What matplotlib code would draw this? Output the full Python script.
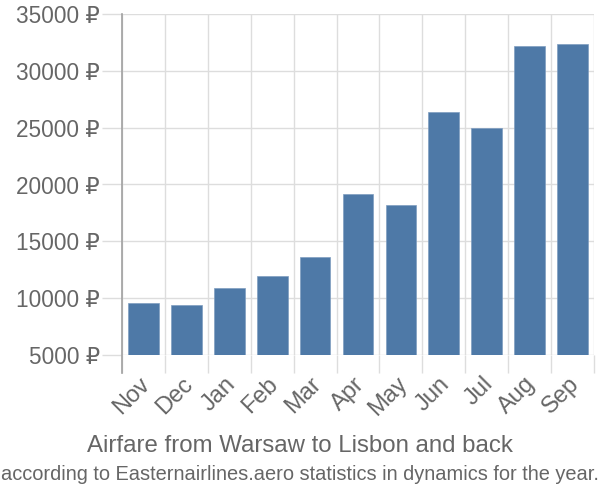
import matplotlib.pyplot as plt
import matplotlib.transforms as mtransforms
from matplotlib.ticker import FixedLocator

months = ['Nov', 'Dec', 'Jan', 'Feb', 'Mar', 'Apr', 'May', 'Jun', 'Jul', 'Aug', 'Sep']
prices = [9600, 9360, 10880, 11910, 13630, 19150, 18240, 26350, 24970, 32150, 32350]
yticks = [5000, 10000, 15000, 20000, 25000, 30000, 35000]

title = 'Airfare from Warsaw to Lisbon and back'
subtitle = 'according to Easternairlines.aero statistics in dynamics for the year.'

plt.rcParams['font.family'] = ['Liberation Sans', 'DejaVu Sans']
txt = '#666666'
grid = '#dddddd'

fig = plt.figure(figsize=(6, 5), dpi=100)
ax = fig.add_axes([122/600, 1-355/500, 472/600, 341/500])

x = range(len(months))
ax.bar(x, prices, width=0.715, bottom=0, color='#4e79a7', edgecolor='#7f9dc0', linewidth=0.5, zorder=3)

ax.set_xlim(-0.5, len(months) - 0.5)
ax.set_ylim(5000, 35000)

# y axis
ax.set_yticks(yticks)
ax.set_yticklabels([f'{v} ₽' for v in yticks])
ax.tick_params(axis='y', length=14.5, width=1, color=grid, pad=1.5, labelsize=16.3, labelcolor=txt)
ax.grid(axis='y', color=grid, linewidth=1, zorder=0)

# x axis: boundaries as minor ticks with grid, labels at centers
ax.xaxis.set_minor_locator(FixedLocator([i - 0.5 for i in range(len(months) + 1)]))
ax.set_xticks(list(x))
ax.set_xticklabels(months, rotation=45, ha='right', va='top', rotation_mode='anchor')
ax.tick_params(axis='x', which='major', length=0, pad=13, labelsize=17, labelcolor=txt)
ax.tick_params(axis='x', which='minor', length=13, width=1, color=grid)
ax.grid(axis='x', which='minor', color=grid, linewidth=1, zorder=0)
shift = mtransforms.ScaledTranslation(-5/100, 0, fig.dpi_scale_trans)
for lbl in ax.get_xticklabels():
    lbl.set_transform(lbl.get_transform() + shift)

for s in ax.spines.values():
    s.set_visible(False)
ax.plot([0, 0], [1, -18/341], transform=ax.transAxes, color='#a0a0a0', linewidth=1.2, clip_on=False, zorder=4)

fig.text(0.5, 1-446/500, title, ha='center', va='center', fontsize=17.3, color=txt)
fig.text(0.5, 1-474/500, subtitle, ha='center', va='center', fontsize=14.4, color=txt)

fig.savefig('out.png', dpi=100)
